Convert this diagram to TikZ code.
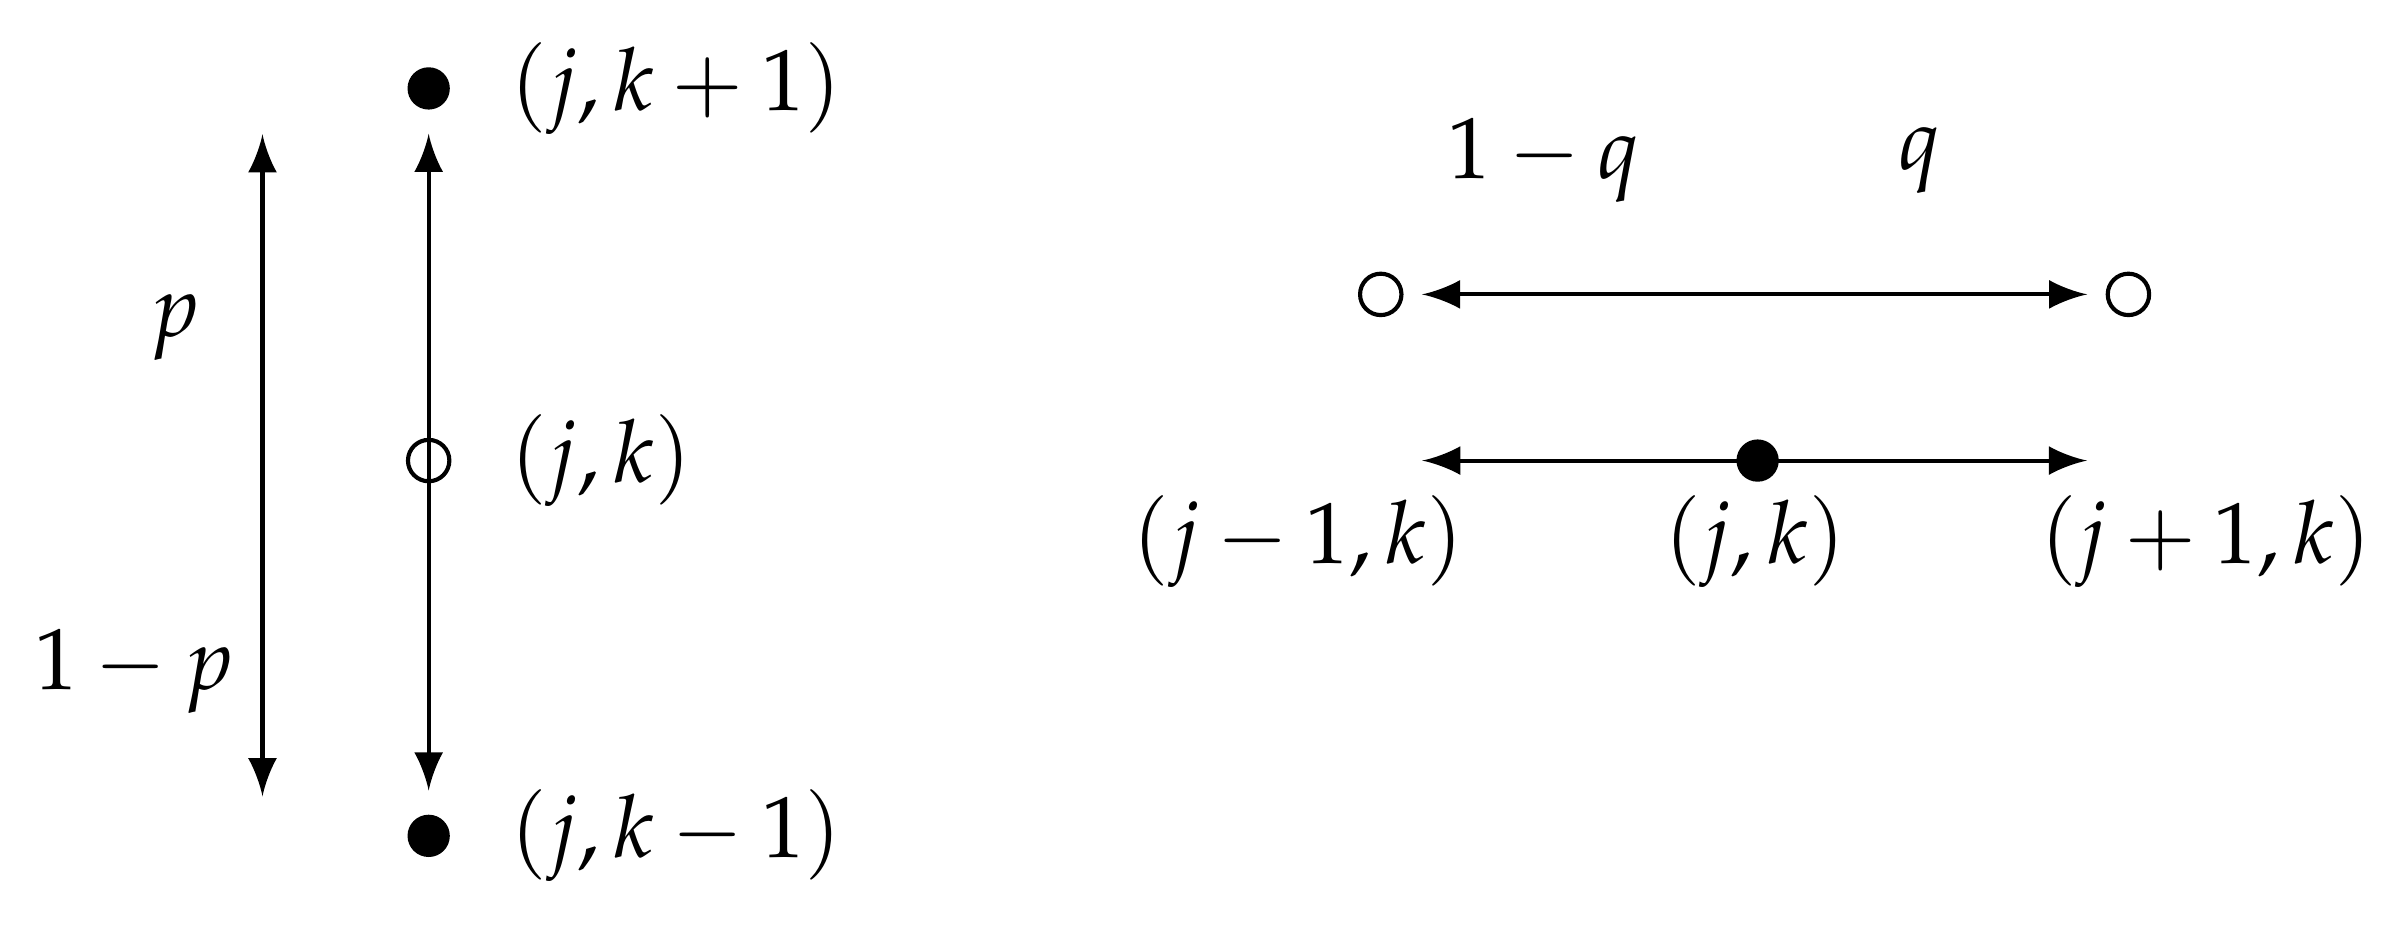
\documentclass[tikz,border=0pt]{standalone}
\usepackage{mathpazo}
\usetikzlibrary{arrows}

\tikzset{
  dot/.style={circle, fill, inner sep=0pt, minimum size=4.6pt},
  ring/.style={circle, draw, inner sep=0pt, minimum size=4.5pt},
}

\begin{document}
\begin{tikzpicture}[every node/.style={font=\fontsize{9.45}{11}\selectfont}, line width=0.45pt]
        \useasboundingbox (0,0) rectangle (9.14,3.585);

        % vertical move
        \node[dot,  label={[label distance=0.1cm]right:$(j,k+1)$}] (up)   at (1.638,3.247) {};
        \node[ring, label={[label distance=0.1cm]right:$(j,k)$}]   (here) at (1.638,1.825) {};
        \node[dot,  label={[label distance=0.1cm]right:$(j,k-1)$}] (down) at (1.638,0.391) {};

        \coordinate (pup)   at (1.003,3.072);
        \coordinate (pdown) at (1.003,0.542);
        \node (p)  at (0.670,2.332) {$p$};
        \node (np) at (0.513,1.020) {$1-p$};

        \draw [latex-latex, shorten <=2.4pt, shorten >=2.4pt] (up)--(down);
        \draw [latex-latex]     (pup)--(pdown);

        % horizontal move
        \node[ring] (left)  at (5.276,2.460) {};
        \node[ring] (right) at (8.133,2.460) {};
        \node (nq) at (5.900,2.973) {$1-q$};
        \node (q)  at (7.334,2.973) {$q$};

        \coordinate (jl) at (5.276,1.825);
        \coordinate (jr) at (8.133,1.825);
        \node[dot] (centre) at (6.716,1.825) {};
        \node (jlabel)  at (4.961,1.516) {$(j-1,k)$};
        \node (clabel)  at (6.705,1.516) {$(j,k)$};
        \node (jrlabel) at (8.430,1.516) {$(j+1,k)$};

        \draw [latex-latex, shorten <=2pt, shorten >=2pt] (left)--(right);
        \draw [latex-latex, shorten <=4.5pt, shorten >=4.5pt] (jl)--(jr);
\end{tikzpicture}
\end{document}
